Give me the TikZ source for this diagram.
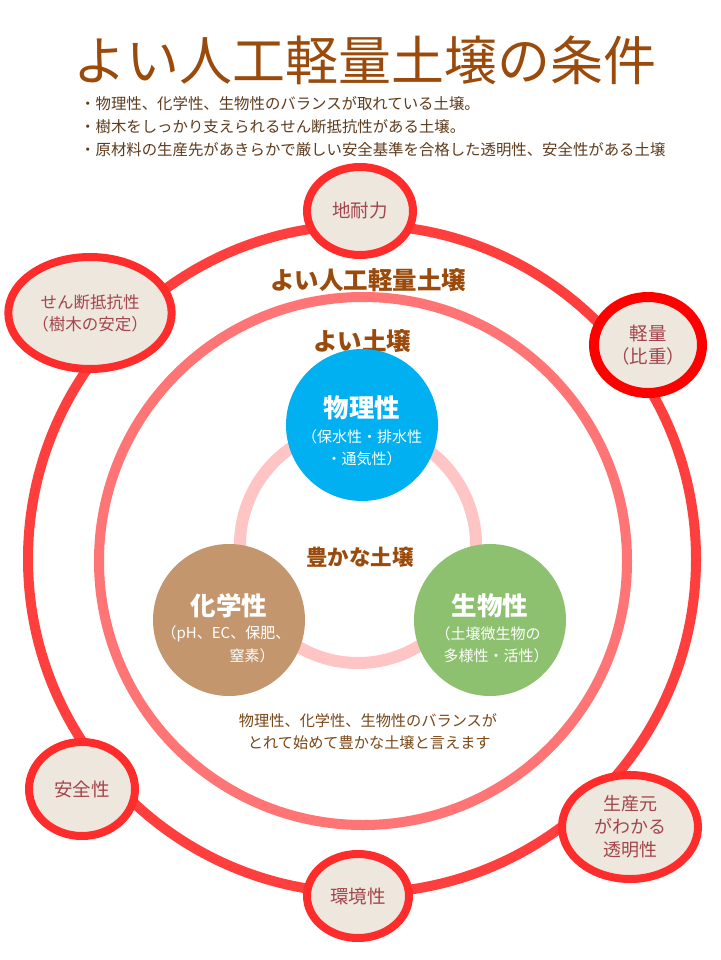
\documentclass[tikz,border=0pt]{standalone}
\usepackage{fontspec}
\newfontfamily\jp{Noto Sans CJK JP}
\definecolor{outerring}{HTML}{FF3E3E}
\definecolor{innerring}{HTML}{FF7474}
\definecolor{pinkring}{HTML}{FFC4C4}
\definecolor{satborder}{HTML}{FF2C2C}
\definecolor{satfill}{HTML}{EEE7DD}
\definecolor{sattext}{HTML}{A2454C}
\definecolor{brownT}{HTML}{9A4B0C}
\definecolor{bulletT}{HTML}{5E3B1C}
\definecolor{bodyT}{HTML}{7A4616}
\definecolor{blueC}{HTML}{00B0F0}
\definecolor{brownC}{HTML}{C4966E}
\definecolor{greenC}{HTML}{8DC170}
\tikzset{
  sat/.style={ellipse, draw=satborder, line width=8pt, fill=satfill, text=sattext, font=\jp\fontsize{18.5}{23}\selectfont, align=center, inner sep=0pt},
  bigc/.style={circle, minimum size=152pt, inner sep=0pt, text=white, align=center},
  ctitle/.style={text=white, font=\jp\bfseries\fontsize{25.5}{28}\selectfont},
  csub/.style={text=white, font=\jp\fontsize{15}{18}\selectfont},
  lbl/.style={text=brownT, font=\jp\bfseries\fontsize{24.5}{28}\selectfont},
  bul/.style={text=bulletT, font=\jp\fontsize{15.4}{18}\selectfont, anchor=west, inner sep=0pt},
  body/.style={text=bodyT, font=\jp\fontsize{15.2}{18}\selectfont, inner sep=0pt}
}
\usetikzlibrary{shapes.geometric}
\begin{document}
\begin{tikzpicture}[x=1pt,y=-1pt]
\useasboundingbox (0,0) rectangle (720,960);
\fill[white] (0,0) rectangle (720,960);
% title
\node (title) [text=brownT, font=\jp\fontsize{53}{60}\selectfont] at (365,60) {よい人工軽量土壌の条件};
\node (b1) [bul] at (80,104) {・物理性、化学性、生物性のバランスが取れている土壌。};
\node (b2) [bul] at (80,127) {・樹木をしっかり支えられるせん断抵抗性がある土壌。};
\node (b3) [bul] at (80,150) {・原材料の生産先があきらかで厳しい安全基準を合格した透明性、安全性がある土壌};
% rings
\draw[outerring, line width=10pt] (362,559) circle[radius=334];
\draw[innerring, line width=10pt] (363,561) circle[radius=264];
\draw[pinkring, line width=12pt] (358,545) circle[radius=118];
% labels
\node (l1) [lbl] at (368,280) {よい人工軽量土壌};
\node (l2) [lbl] at (362,341) {よい土壌};
\node (l3) [text=brownT, font=\jp\bfseries\fontsize{21.5}{24}\selectfont] at (360,557) {豊かな土壌};
% central circles
\node (phys) [bigc, fill=blueC] at (362,425) {};
\node[ctitle] at (362,408) {物理性};
\node[csub] at (362,437) {（保水性・排水性};
\node[csub] at (364,459) {・通気性）};
\node (chem) [bigc, fill=brownC] at (229,620) {};
\node[ctitle] at (229,606) {化学性};
\node[csub] at (226,634) {（pH、EC、保肥、};
\node[csub] at (252,656) {窒素）};
\node (bio) [bigc, fill=greenC] at (490,620) {};
\node[ctitle] at (490,606) {生物性};
\node[csub] at (488,634) {（土壌微生物の};
\node[csub] at (496,656) {多様性・活性）};
\node (note) [body, align=center] at (368,732) {物理性、化学性、生物性のバランスが\\[4pt]\,とれて始めて豊かな土壌と言えます};
% satellites
\node (s1) [sat, minimum width=106pt, minimum height=88pt] at (360,211) {地耐力};
\node (s2) [sat, font=\jp\fontsize{16.5}{22}\selectfont, minimum width=148pt, minimum height=112pt] at (90,313) {せん断抵抗性\\（樹木の安定）};
\node (s3) [sat, draw=red, line width=10pt, minimum width=108pt, minimum height=96pt] at (648,345) {軽量\\（比重）};
\node (s4) [sat, minimum width=106pt, minimum height=94pt] at (82,789) {安全性};
\node (s5) [sat, minimum width=136pt, minimum height=104pt, font=\jp\fontsize{18}{23}\selectfont] at (630,827) {生産元\\がわかる\\透明性};
\node (s6) [sat, minimum width=102pt, minimum height=84pt] at (358,896) {環境性};
\end{tikzpicture}
\end{document}
